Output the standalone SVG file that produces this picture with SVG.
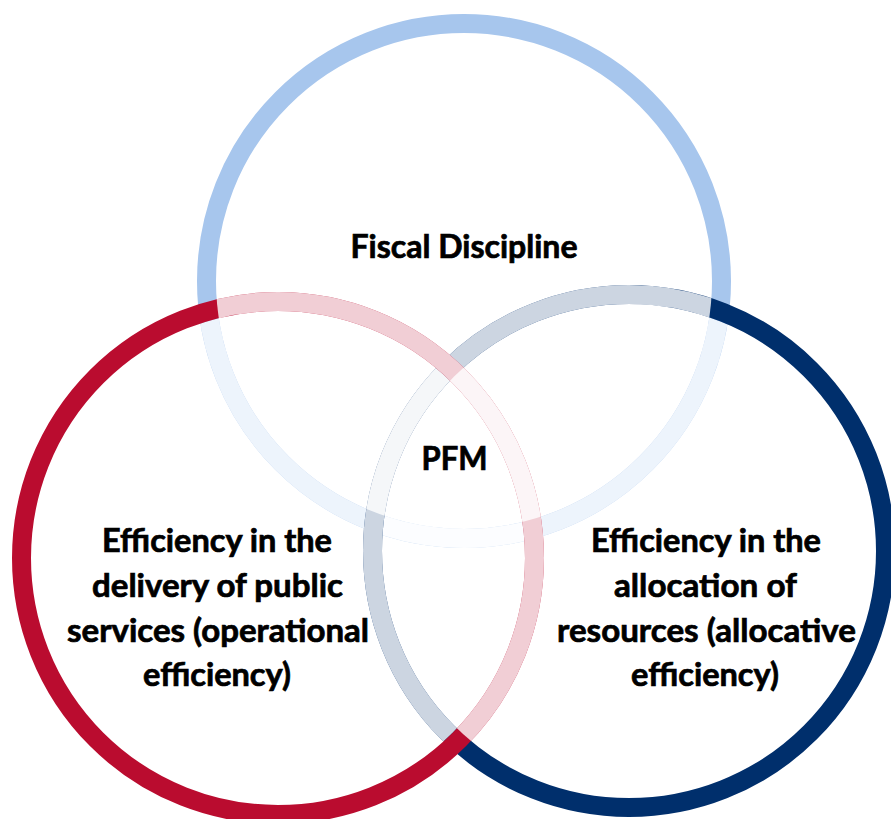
<svg xmlns="http://www.w3.org/2000/svg" width="891" height="819" viewBox="0 0 891 819">
  <style>
    .ring { fill: none; stroke-width: 19; }
    .veil { fill: none; stroke-width: 19; stroke: #ffffff; stroke-opacity: 0.8; }
    .label { font-family: Lato, "Open Sans", "Liberation Sans", sans-serif; font-weight: 700; font-size: 31.5px; fill: #000000; stroke: #000000; stroke-width: 0.7; text-anchor: middle; }
  </style>
  <defs>
    <clipPath id="inTop"><circle cx="464" cy="281" r="248"/></clipPath>
    <clipPath id="inLeft"><circle cx="278" cy="558" r="247"/></clipPath>
    <clipPath id="inRight"><circle cx="629" cy="551" r="247"/></clipPath>
  </defs>
  <rect width="891" height="819" fill="#ffffff"/>

  <g id="fiscal-discipline">
    <circle class="ring" cx="464" cy="281" r="257.5" stroke="#A7C6ED"/>
    <circle class="veil" cx="464" cy="281" r="257.5" clip-path="url(#inLeft)"/>
    <circle class="veil" cx="464" cy="281" r="257.5" clip-path="url(#inRight)"/>
    <text class="label" x="464" y="258" textLength="227" lengthAdjust="spacingAndGlyphs">Fiscal Discipline</text>
  </g>

  <g id="allocative-efficiency">
    <circle class="ring" cx="629" cy="551" r="256.5" stroke="#002F6C"/>
    <circle class="veil" cx="629" cy="551" r="256.5" clip-path="url(#inTop)"/>
    <circle class="veil" cx="629" cy="551" r="256.5" clip-path="url(#inLeft)"/>
    <text class="label" x="706" y="552" textLength="230" lengthAdjust="spacingAndGlyphs">Efficiency in the</text>
    <text class="label" x="705.5" y="597" textLength="183" lengthAdjust="spacingAndGlyphs">allocation of</text>
    <text class="label" x="706.5" y="641.5" textLength="299" lengthAdjust="spacingAndGlyphs">resources (allocative</text>
    <text class="label" x="705" y="686" textLength="148" lengthAdjust="spacingAndGlyphs">efficiency)</text>
  </g>

  <g id="operational-efficiency">
    <circle class="ring" cx="278" cy="558" r="256.5" stroke="#BA0C2F"/>
    <circle class="veil" cx="278" cy="558" r="256.5" clip-path="url(#inTop)"/>
    <circle class="veil" cx="278" cy="558" r="256.5" clip-path="url(#inRight)"/>
    <text class="label" x="217" y="552" textLength="230" lengthAdjust="spacingAndGlyphs">Efficiency in the</text>
    <text class="label" x="217.5" y="597" textLength="251" lengthAdjust="spacingAndGlyphs">delivery of public</text>
    <text class="label" x="218" y="641.5" textLength="302" lengthAdjust="spacingAndGlyphs">services (operational</text>
    <text class="label" x="217" y="686" textLength="148" lengthAdjust="spacingAndGlyphs">efficiency)</text>
  </g>

  <g id="pfm">
    <text class="label" x="454.5" y="470" textLength="66" lengthAdjust="spacingAndGlyphs">PFM</text>
  </g>
</svg>
